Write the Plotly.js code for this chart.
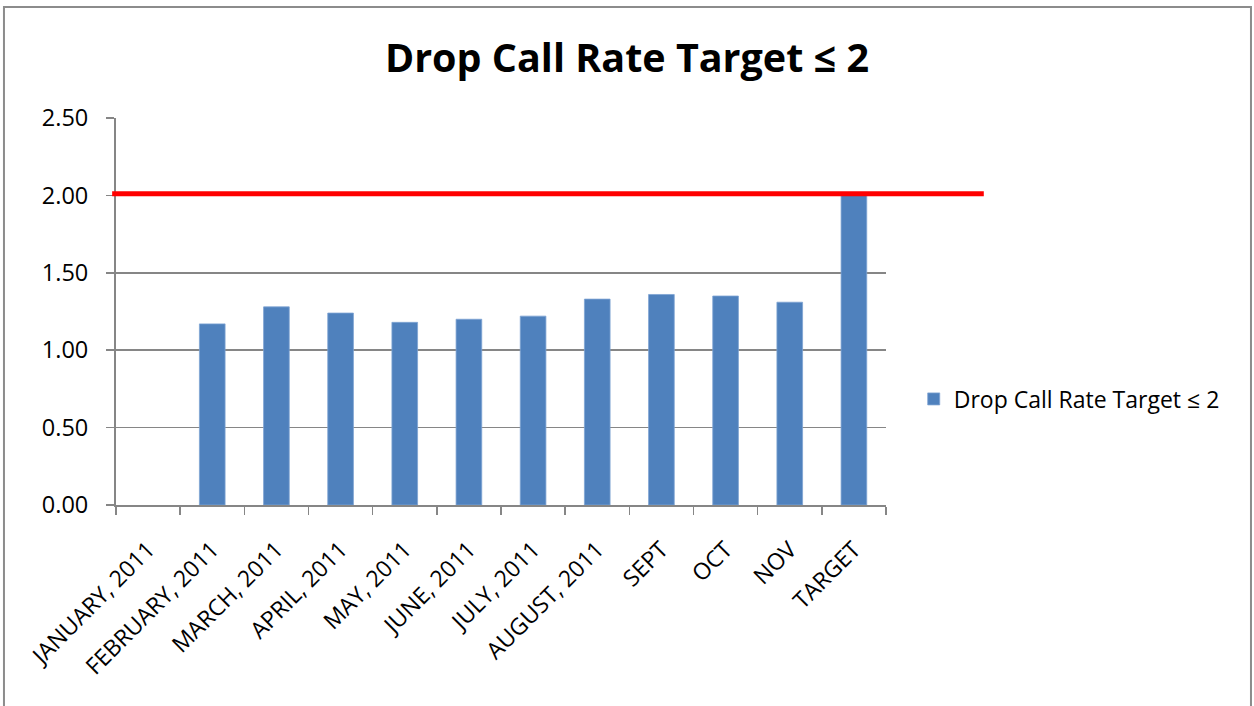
<!DOCTYPE html>
<html>
<head>
<meta charset="utf-8">
<script src="https://cdn.plot.ly/plotly-3.0.1.min.js"></script>
<style>
  html, body { margin: 0; padding: 0; background: #ffffff; }
  #chart { width: 1254px; height: 706px; }
</style>
</head>
<body>
<div id="chart"></div>
<script>
// values
var months = ['JANUARY, 2011', 'FEBRUARY, 2011', 'MARCH, 2011', 'APRIL, 2011', 'MAY, 2011',
              'JUNE, 2011', 'JULY, 2011', 'AUGUST, 2011', 'SEPT', 'OCT', 'NOV', 'TARGET'];
var drop_rates = [null, 1.17, 1.28, 1.24, 1.18, 1.20, 1.22, 1.33, 1.36, 1.35, 1.31, 2.00];
var target_level = 2.01;
var series_name = 'Drop Call Rate Target \u2264 2';

var font_family = '"Open Sans", "Noto Sans", sans-serif';
var grid_color = '#868686';

var data = [{
    name : series_name,
    type : 'bar',
    x : months,
    y : drop_rates,
    width : 0.4,
    marker : { color : '#4f81bd', line : { color : '#7ea3d3', width : 0.8 } },
    showlegend : true
}];

var xaxis = { type : 'category', tickangle : -45, tickson : 'boundaries',
              ticks : 'outside', ticklen : 8, tickcolor : grid_color, tickwidth : 1.5,
              ticklabelstandoff : 20,
              showline : true, linecolor : grid_color, linewidth : 2,
              showgrid : false, fixedrange : true,
              tickfont : { family : font_family, size : 23, color : '#000000' } };
var yaxis = { range : [0, 2.5], dtick : 0.5, tickformat : '.2f',
              ticks : 'outside', ticklen : 8, tickcolor : grid_color, tickwidth : 1.5,
              ticklabelstandoff : 13,
              showline : true, linecolor : grid_color, linewidth : 2,
              gridcolor : grid_color, gridwidth : 1.5, zeroline : false,
              tickfont : { family : font_family, size : 23.5, color : '#000000' } };

var layout = { title : { text : '<b>' + series_name + '</b>', x : 0.5, xref : 'container',
                         y : 1 - 58/706, yref : 'container', yanchor : 'middle',
                         font : { family : font_family, size : 39.5, color : '#000000' } },
               xaxis : xaxis,
               yaxis : yaxis,
               width : 1254, height : 706,
               margin : { l : 116, r : 368, t : 118, b : 201 },
               paper_bgcolor : '#ffffff', plot_bgcolor : '#ffffff',
               bargap : 0.6,
               legend : { x : 1.036, xanchor : 'left', y : 0.274, yanchor : 'middle',
                          font : { family : font_family, size : 23, color : '#000000' },
                          bgcolor : 'rgba(0,0,0,0)' },
               shapes : [
                   // target line, runs past the plot area like in the sheet
                   { type : 'line', xref : 'paper', yref : 'y', x0 : -0.005, x1 : 1.127,
                     y0 : target_level, y1 : target_level, layer : 'above',
                     line : { color : '#ff0000', width : 5 } },
                   // chart border
                   { type : 'rect', xref : 'paper', yref : 'paper', x0 : -0.1455, x1 : 1.474,
                     y0 : -0.56, y1 : 1.287, layer : 'below',
                     line : { color : '#8c8c8c', width : 2 } }
               ] };

Plotly.newPlot('chart', data, layout, { displayModeBar : false, staticPlot : true });
</script>
</body>
</html>
